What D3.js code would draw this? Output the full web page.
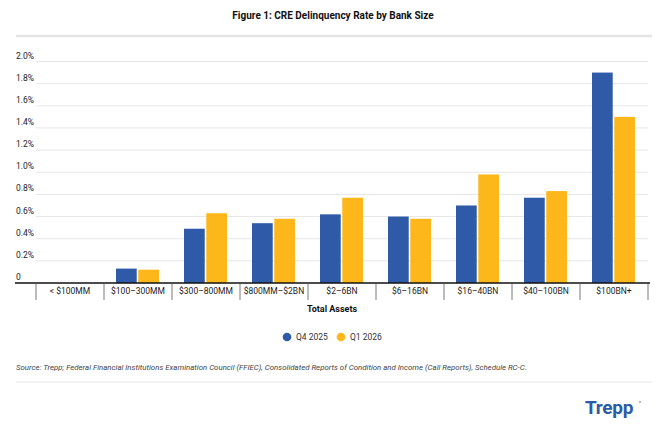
<!DOCTYPE html>
<html>
<head>
<meta charset="utf-8">
<script src="https://cdn.jsdelivr.net/npm/d3@7"></script>
<style>
  body { margin: 0; background: #fff; }
  svg { font-family: Roboto, "Noto Sans", sans-serif; display: block; }
  .grid line { stroke: #e6e6e6; stroke-width: 1; }
  .y-label { font-size: 8.5px; fill: #222; }
  .x-label { font-size: 8.5px; fill: #222; }
  .axis-title { font-size: 9px; font-weight: 700; fill: #111; }
  .plot-title { font-size: 10px; font-weight: 700; fill: #111; }
  .legend-text { font-size: 8.5px; fill: #333; }
  .source { font-size: 7.85px; font-style: italic; fill: #444; }
</style>
</head>
<body>
<svg id="chart" width="666" height="427"></svg>
<script>
// data
const categories = ["< $100MM", "$100–300MM", "$300–800MM", "$800MM–$2BN", "$2–6BN", "$6–16BN", "$16–40BN", "$40–100BN", "$100BN+"];
const seriesNames = ["Q4 2025", "Q1 2026"];
const q4_2025 = [0, 0.13, 0.49, 0.54, 0.62, 0.60, 0.70, 0.77, 1.90];
const q1_2026 = [0, 0.12, 0.63, 0.58, 0.77, 0.58, 0.98, 0.83, 1.50];
const yTicks = [0, 0.2, 0.4, 0.6, 0.8, 1.0, 1.2, 1.4, 1.6, 1.8, 2.0];
const colors = ["#2f5aa8", "#fdb71b"];

const title = "Figure 1: CRE Delinquency Rate by Bank Size";
const xTitle = "Total Assets";
const source = "Source: Trepp; Federal Financial Institutions Examination Council (FFIEC), Consolidated Reports of Condition and Income (Call Reports), Schedule RC-C.";

const plot = { left: 36, right: 648, top: 61.5, bottom: 283 };

const svg = d3.select("#chart");

const rows = categories.map((c, i) => ({ cat: c, values: [q4_2025[i], q1_2026[i]] }));

const x0 = d3.scaleBand().domain(categories).range([plot.left, plot.right]).padding(0);
const x1 = d3.scaleBand().domain(seriesNames).range([12, 55]).paddingInner(0.07);
const y = d3.scaleLinear().domain([0, 2.0]).range([plot.bottom, plot.top]);
const color = d3.scaleOrdinal().domain(seriesNames).range(colors);

// title + rule under it
svg.append("text")
    .attr("class", "plot-title")
    .attr("x", 333)
    .attr("y", 19)
    .attr("text-anchor", "middle")
    .text(title)

svg.append("line")
    .attr("x1", 16).attr("x2", 652)
    .attr("y1", 36).attr("y2", 36)
    .attr("stroke", "#e4e4e4")
    .attr("stroke-width", 2.5)

// horizontal gridlines
const grid = svg.append("g").attr("class", "grid")
grid.selectAll("line")
    .data(yTicks.filter(d => d > 0))
    .join("line")
    .attr("x1", plot.left)
    .attr("x2", plot.right)
    .attr("y1", d => y(d))
    .attr("y2", d => y(d))

// y tick labels sit just above their gridline, left aligned
svg.append("g").selectAll("text")
    .data(yTicks)
    .join("text")
    .attr("class", "y-label")
    .attr("x", 16)
    .attr("y", d => y(d) - 3)
    .text(d => d === 0 ? "0" : d3.format(".1f")(d) + "%")

// bars
const groups = svg.append("g").selectAll("g")
    .data(rows)
    .join("g")
    .attr("transform", d => `translate(${x0(d.cat)},0)`)

groups.selectAll("rect")
    .data(d => d.values.map((v, i) => ({ key: seriesNames[i], value: v })).filter(e => e.value > 0))
    .join("rect")
    .attr("x", d => x1(d.key))
    .attr("width", x1.bandwidth())
    .attr("y", d => y(d.value))
    .attr("height", d => y(0) - y(d.value))
    .attr("fill", d => color(d.key))

// x axis: baseline + separators between categories
const xAxis = svg.append("g").attr("class", "axis-x")
xAxis.append("line")
    .attr("x1", 15).attr("x2", 650)
    .attr("y1", plot.bottom).attr("y2", plot.bottom)
    .attr("stroke", "#111")
    .attr("stroke-width", 1.3)

const bounds = categories.map(c => x0(c)).concat([x0.range()[1]])
xAxis.selectAll(".sep")
    .data(bounds)
    .join("line")
    .attr("class", "sep")
    .attr("x1", d => d).attr("x2", d => d)
    .attr("y1", plot.bottom).attr("y2", plot.bottom + 17)
    .attr("stroke", "#555")
    .attr("stroke-width", 0.8)

xAxis.selectAll(".x-label")
    .data(categories)
    .join("text")
    .attr("class", "x-label")
    .attr("x", d => x0(d) + x0.bandwidth() / 2)
    .attr("y", plot.bottom + 11)
    .attr("text-anchor", "middle")
    .text(d => d)

svg.append("text")
    .attr("class", "axis-title")
    .attr("x", 332)
    .attr("y", 312)
    .attr("text-anchor", "middle")
    .text(xTitle)

// legend
const legendPos = [287, 341]
const legend = svg.append("g").attr("class", "legend")
const items = legend.selectAll("g")
    .data(seriesNames)
    .join("g")
    .attr("transform", (d, i) => `translate(${legendPos[i]},337)`)
items.append("circle")
    .attr("r", 4.3)
    .attr("fill", d => color(d))
items.append("text")
    .attr("class", "legend-text")
    .attr("x", 9)
    .attr("dy", "0.35em")
    .text(d => d)

// source + footer rule + logo
svg.append("text")
    .attr("class", "source")
    .attr("x", 16)
    .attr("y", 370)
    .text(source)

svg.append("line")
    .attr("x1", 16).attr("x2", 652)
    .attr("y1", 382).attr("y2", 382)
    .attr("stroke", "#e8e8e8")
    .attr("stroke-width", 1)

svg.append("text")
    .attr("x", 585)
    .attr("y", 414)
    .attr("fill", "#2b5ba6")
    .attr("font-size", "19px")
    .attr("font-weight", 700)
    .attr("letter-spacing", "-0.3px")
    .text("Trepp")
svg.append("circle")
    .attr("cx", 640).attr("cy", 402)
    .attr("r", 1)
    .attr("fill", "#8aa3cc")
</script>
</body>
</html>
